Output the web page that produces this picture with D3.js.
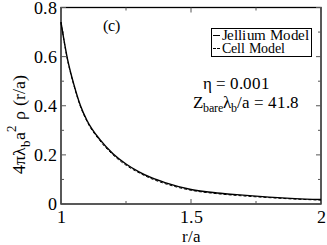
<!DOCTYPE html>
<html><head><meta charset="utf-8">
<script src="https://cdn.jsdelivr.net/npm/d3@7"></script>
<style>
@font-face { font-family: "ChartSerif"; src: local("Liberation Serif"), local("LiberationSerif-Regular"), local("Times New Roman"); }
body{margin:0}
svg text{font-family:"ChartSerif","Liberation Serif","Times New Roman",serif}
</style>
</head><body>
<svg id="c" width="327" height="245"></svg>
<script>
const rValues    = [1.0, 1.025, 1.05, 1.075, 1.1, 1.15, 1.2, 1.25, 1.3, 1.35, 1.4, 1.5, 1.6, 1.7, 1.8, 1.9, 2.0];
const jellium    = [0.74, 0.59, 0.485, 0.40, 0.34, 0.262, 0.205, 0.163, 0.131, 0.106, 0.087, 0.059, 0.045, 0.036, 0.028, 0.022, 0.018];
const cellModel  = [0.74, 0.587, 0.481, 0.396, 0.336, 0.257, 0.200, 0.158, 0.127, 0.102, 0.083, 0.056, 0.042, 0.033, 0.026, 0.020, 0.016];
const xTicks = [1, 1.5, 2];
const xTickLabels = ["1", "1.5", "2"];
const xMinor = [1.25, 1.75];
const yTicks = [0, 0.2, 0.4, 0.6, 0.8];
const yTickLabels = ["0", "0.2", "0.4", "0.6", "0.8"];
const yMinor = [0.1, 0.3, 0.5, 0.7];
const seriesNames = ["Jellium Model", "Cell Model"];

const svg = d3.select("#c");
const L = 61, R = 321, T = 7.5, B = 204;
const x = d3.scaleLinear().domain([1, 2]).range([L, R]);
const y = d3.scaleLinear().domain([0, 0.8]).range([B, T]);

function txt(px, py, size, s, anchor) {
  return svg.append("text").attr("x", px).attr("y", py).attr("font-size", size)
    .attr("text-anchor", anchor || "start").text(s);
}

svg.append("rect").attr("x", L).attr("y", T).attr("width", R - L).attr("height", B - T)
  .attr("fill", "none").attr("stroke", "#000").attr("stroke-width", 1.3);

function ticks(vals, len) {
  vals.forEach(v => {
    svg.append("line").attr("x1", x(v)).attr("x2", x(v)).attr("y1", B).attr("y2", B - len).attr("stroke", "#555");
    svg.append("line").attr("x1", x(v)).attr("x2", x(v)).attr("y1", T).attr("y2", T + len).attr("stroke", "#555");
  });
}
function yticks(vals, len) {
  vals.forEach(v => {
    svg.append("line").attr("y1", y(v)).attr("y2", y(v)).attr("x1", L).attr("x2", L + len).attr("stroke", "#555");
    svg.append("line").attr("y1", y(v)).attr("y2", y(v)).attr("x1", R).attr("x2", R - len).attr("stroke", "#555");
  });
}
ticks(xTicks, 5); ticks(xMinor, 3);
yticks(yTicks, 5); yticks(yMinor, 3);

xTicks.forEach((v, i) => txt(x(v), 223, 18, xTickLabels[i], "middle"));
yTicks.forEach((v, i) => txt(57, y(v) + 6, 18, yTickLabels[i], "end"));

txt((L + R) / 2, 242, 17, "r/a", "middle");
const yl = svg.append("text").attr("transform", "translate(25,124) rotate(-90)").attr("text-anchor", "middle")
  .attr("font-size", 18);
yl.append("tspan").text("4πλ");
yl.append("tspan").attr("font-size", 13).attr("dy", 5).text("b");
yl.append("tspan").attr("dy", -5).text("a");
yl.append("tspan").attr("font-size", 13).attr("dy", -9).text("2");
yl.append("tspan").attr("dy", 9).text(" ρ (r/a)");

const line = d3.line().x(d => x(d[0])).y(d => y(d[1])).curve(d3.curveMonotoneX);
svg.append("path").datum(rValues.map((r, i) => [r, jellium[i]])).attr("d", line)
  .attr("fill", "none").attr("stroke", "#000").attr("stroke-width", 1.4);
svg.append("path").datum(rValues.map((r, i) => [r, cellModel[i]])).attr("d", line)
  .attr("fill", "none").attr("stroke", "#000").attr("stroke-width", 1).attr("stroke-dasharray", "3,2");

txt(111, 31, 16, "(c)", "middle");

svg.append("rect").attr("x", 211.5).attr("y", 28.5).attr("width", 100).attr("height", 28)
  .attr("fill", "#fff").attr("stroke", "#000").attr("stroke-width", 1);
svg.append("line").attr("x1", 213).attr("x2", 220).attr("y1", 35.5).attr("y2", 35.5).attr("stroke", "#000").attr("stroke-width", 1);
svg.append("line").attr("x1", 213).attr("x2", 220).attr("y1", 48.5).attr("y2", 48.5).attr("stroke", "#000").attr("stroke-width", 1).attr("stroke-dasharray", "3,1");
txt(222, 40, 14, seriesNames[0]).attr("textLength", 87).attr("lengthAdjust", "spacingAndGlyphs");
txt(222, 53, 14, seriesNames[1]);

txt(203, 89, 17, "η = 0.001");
const z = svg.append("text").attr("x", 193).attr("y", 108).attr("font-size", 17);
z.append("tspan").text("Z");
z.append("tspan").attr("font-size", 12).attr("dy", 4).text("bare");
z.append("tspan").attr("dy", -4).text("λ");
z.append("tspan").attr("font-size", 12).attr("dy", 4).text("b");
z.append("tspan").attr("dy", -4).text("/a = 41.8");
</script>
</body></html>
